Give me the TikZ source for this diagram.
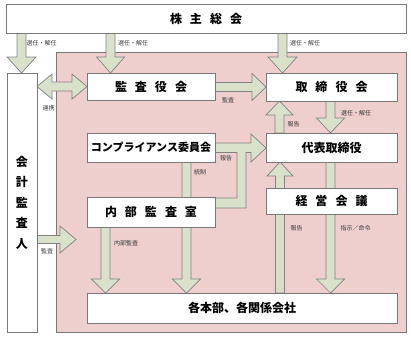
\documentclass[tikz,border=0pt]{standalone}
\usepackage{fontspec}
\newfontfamily\jp{Noto Sans CJK JP}
\definecolor{pinkbg}{RGB}{239,206,206}
\definecolor{arrfill}{RGB}{218,225,203}
\definecolor{arrline}{RGB}{130,130,130}
\definecolor{boxline}{RGB}{120,120,120}
\definecolor{lbl}{RGB}{55,55,55}
\tikzset{
  box/.style={draw=boxline, line width=0.9pt, fill=white, inner sep=0pt, font=\jp\bfseries\fontsize{12}{14}\selectfont},
  arr/.style={draw=arrline, line width=0.7pt, fill=arrfill, line join=miter},
  lab/.style={inner sep=0pt, text=lbl, font=\jp\fontsize{6}{7}\selectfont}
}
% vertical block arrow: cx, ystart, yheadbase, ytip, shaft half, head half
\newcommand{\varr}[6]{\draw[arr] ({#1-#5},#2) -- ({#1-#5},#3) -- ({#1-#6},#3) -- (#1,#4) -- ({#1+#6},#3) -- ({#1+#5},#3) -- ({#1+#5},#2) -- cycle;}
% horizontal block arrow: cy, xstart, xheadbase, xtip, shaft half, head half
\newcommand{\harr}[6]{\draw[arr] (#2,{#1-#5}) -- (#3,{#1-#5}) -- (#3,{#1-#6}) -- (#4,#1) -- (#3,{#1+#6}) -- (#3,{#1+#5}) -- (#2,{#1+#5}) -- cycle;}
\newcommand{\gap}{\hspace{8pt}}
\begin{document}
\begin{tikzpicture}[x=1pt,y=-1pt]
\useasboundingbox (0,0) rectangle (411,338);
% pink region
\fill[pinkbg, draw=boxline, line width=0.8pt] (56,52) rectangle (406,332);

% arrows
\varr{21.5}{33}{57}{73}{4.5}{14.5}
\varr{110.5}{33}{57}{73}{4.5}{14}
\varr{282.5}{33}{57}{73}{4.5}{14.5}
% double arrow
\draw[arr] (37,86.5) -- (52,74) -- (52,82) -- (72,82) -- (72,74) -- (87,86.5) -- (72,99) -- (72,91) -- (52,91) -- (52,99) -- cycle;
\harr{87}{215}{252}{266}{4.5}{13.5}
\varr{279.5}{133}{115}{101}{4.5}{13.5}
\varr{330.5}{101}{118}{133}{4.5}{14}
% combined arrow to daihyo
\draw[arr] (215,143) -- (251,143) -- (251,134) -- (266,148) -- (251,162) -- (251,152.5) -- (246,152.5) -- (246,208) -- (215,208) -- (215,198) -- (237,198) -- (237,152.5) -- (215,152.5) -- cycle;
\varr{186.5}{162}{279}{293}{4.5}{14}
\varr{105.5}{227}{279}{293}{4.5}{14}
\varr{280}{293}{176}{162}{4.5}{13}
\varr{330.5}{162}{279}{293}{4.5}{14}
\harr{239.5}{37}{60}{76}{4}{13.5}

% boxes
\node[box, minimum width=400pt, minimum height=29pt] (kabu) at (206,18.5) {株\gap 主\gap 総\gap 会};
\node[box, minimum width=30pt, minimum height=259pt, align=center, font=\jp\bfseries\fontsize{12}{20.5}\selectfont] (kaikei) at (22,202.5) {会\\計\\監\\査\\人};
\node[box, minimum width=128pt, minimum height=27pt] (kansa) at (151,86.5) {監\gap 査\gap 役\gap 会};
\node[box, minimum width=131pt, minimum height=28pt] (tori) at (331.5,87) {取\gap 締\gap 役\gap 会};
\node[box, minimum width=128pt, minimum height=29pt, font=\jp\bfseries\fontsize{11}{13}\selectfont] (comp) at (151,147.5) {コンプライアンス委員会};
\node[box, minimum width=131pt, minimum height=29pt] (daihyo) at (331.5,147.5) {代表取締役};
\node[box, minimum width=128pt, minimum height=30pt] (naibu) at (151,212) {内\gap 部\gap 監\gap 査\gap 室};
\node[box, minimum width=131pt, minimum height=26pt] (keiei) at (331.5,201) {経\gap 営\gap 会\gap 議};
\node[box, minimum width=310pt, minimum height=30pt] (honbu) at (242,308) {各本部、各関係会社};

% labels
\node[lab] (l1) at (41.5,43) {選任・解任};
\node[lab] (l2) at (133,43) {選任・解任};
\node[lab] (l3) at (305,43) {選任・解任};
\node[lab] (l4) at (48.5,108) {連携};
\node[lab] (l5) at (228,100) {監査};
\node[lab] (l6) at (293.5,124) {報告};
\node[lab] (l7) at (356,113) {選任・解任};
\node[lab] (l8) at (226,158) {報告};
\node[lab] (l9) at (200,172) {統制};
\node[lab] (l10) at (126,243) {内部監査};
\node[lab] (l11) at (296.5,228) {報告};
\node[lab] (l12) at (355.5,228) {指示／命令};
\node[lab] (l13) at (47,251) {監査};
\end{tikzpicture}
\end{document}
